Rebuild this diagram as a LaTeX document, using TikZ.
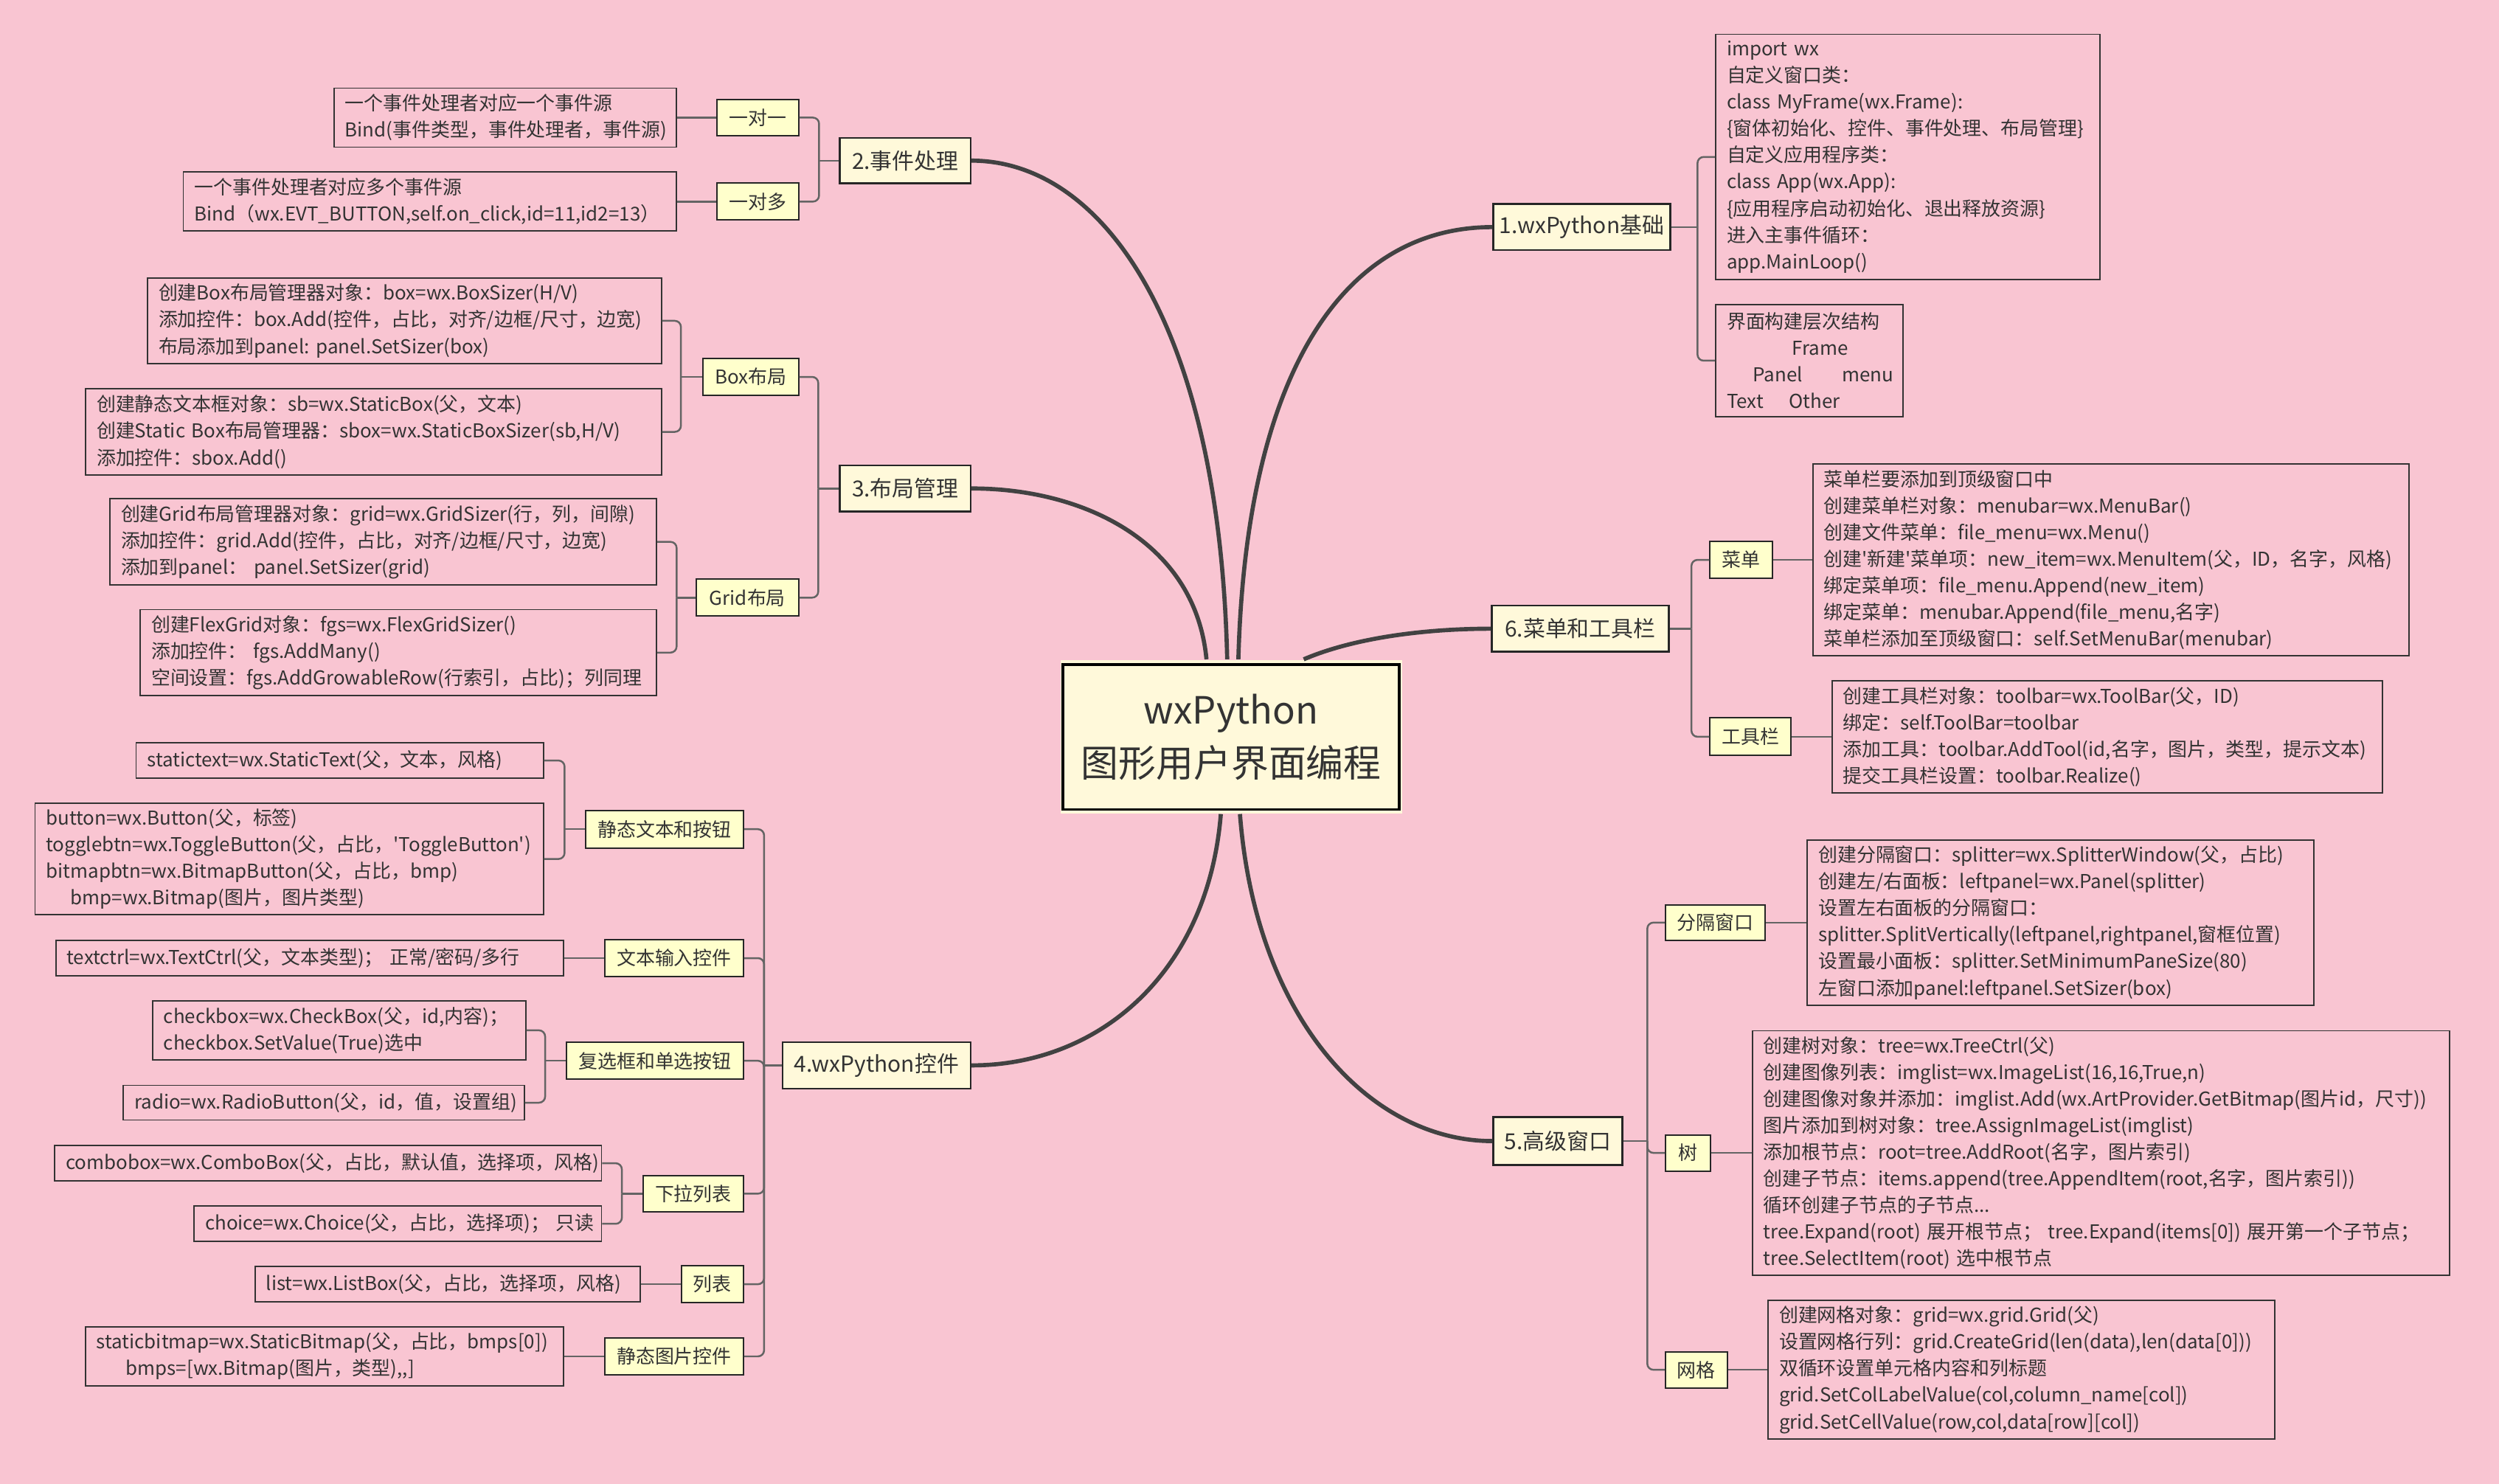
\documentclass[tikz,border=0pt]{standalone}
\usepackage{fontspec}
\setmainfont{Noto Sans CJK SC}[Ligatures=TeXOff]
\usetikzlibrary{calc}
\definecolor{bgpink}{RGB}{249,197,210}
\definecolor{cream}{RGB}{255,249,218}
\definecolor{subyel}{RGB}{255,255,204}
\definecolor{ink}{RGB}{51,51,51}
\definecolor{lnc}{RGB}{100,100,100}
\definecolor{maincol}{RGB}{66,66,66}
\newcommand\mydbox[6]{%
  \pgfmathsetmacro\mytw{#4*0.65-9}%
  \pgfmathsetmacro\myhh{#5*0.65}%
  \node[detail, text width=\mytw pt, minimum height=\myhh pt] (#1) at (#2,#3) {#6};}
\newcommand\mytbox[7]{%
  \pgfmathsetmacro\myww{#5*0.65}%
  \pgfmathsetmacro\myhh{#6*0.65}%
  \node[#1, minimum width=\myww pt, minimum height=\myhh pt] (#2) at (#3,#4) {#7};}
\tikzset{
  detail/.style={draw=ink, line width=0.55pt, inner xsep=4.5pt, inner ysep=0pt, align=left, text=ink, font=\fontsize{7.8pt}{10.86pt}\selectfont},
  topic/.style={draw=black!85, line width=0.75pt, fill=cream, inner sep=0pt, text=ink, font=\fontsize{9pt}{11pt}\selectfont},
  subtopic/.style={draw=black!85, line width=0.6pt, fill=subyel, inner sep=0pt, text=ink, font=\fontsize{7.8pt}{10pt}\selectfont},
  conn/.style={draw=lnc, line width=0.75pt, rounded corners=2.5pt},
  mainline/.style={draw=maincol, line width=1.7pt},
}
\begin{document}
\hyphenpenalty=10000 \exhyphenpenalty=10000
\begin{tikzpicture}[x=0.65pt, y=-0.65pt]
\fill[bgpink] (0,0) rectangle (1568,931);
\useasboundingbox (0,0) rectangle (1568,931);

% central
\node[fill=cream, minimum width=139.4pt, minimum height=62.7pt, inner sep=0pt] (cbg) at (772.75,462.25) {};
\node[draw=black, line width=1.1pt, minimum width=137.15pt, minimum height=59.15pt, inner sep=0pt, align=center, text=ink, font=\fontsize{15.3pt}{21.5pt}\selectfont] (c) at (772.5,462.5) {wxPython\\图形用户界面编程};

% main topics
\mytbox{topic}{t1}{992.5}{142.5}{111}{29}{1.wxPython基础}
\mytbox{topic}{t2}{568}{100.8}{82}{28.5}{2.事件处理}
\mytbox{topic}{t3}{568}{306.5}{82}{29}{3.布局管理}
\mytbox{topic}{t4}{550}{668.5}{118}{29}{4.wxPython控件}
\mytbox{topic}{t5}{977.5}{716}{81}{30}{5.高级窗口}
\mytbox{topic}{t6}{991.5}{394.5}{111}{29}{6.菜单和工具栏}

% sub topics
\mytbox{subtopic}{s21}{475.5}{73.8}{51}{23}{一对一}
\mytbox{subtopic}{s22}{475.5}{126.5}{51}{23}{一对多}
\mytbox{subtopic}{s31}{471}{236.5}{60}{23}{Box布局}
\mytbox{subtopic}{s32}{469}{375}{64}{23}{Grid布局}
\mytbox{subtopic}{s41}{417}{520.3}{99}{23.4}{静态文本和按钮}
\mytbox{subtopic}{s42}{423}{601.2}{87}{23}{文本输入控件}
\mytbox{subtopic}{s43}{411}{665.6}{111}{23}{复选框和单选按钮}
\mytbox{subtopic}{s44}{435}{749}{62.7}{23}{下拉列表}
\mytbox{subtopic}{s45}{447}{805.8}{38.6}{23}{列表}
\mytbox{subtopic}{s46}{423}{851.1}{87}{23}{静态图片控件}
\mytbox{subtopic}{s61}{1092.5}{351.3}{39}{23.5}{菜单}
\mytbox{subtopic}{s62}{1098.4}{462.3}{50.8}{23.6}{工具栏}
\mytbox{subtopic}{s51}{1076.2}{578.9}{62.5}{22.5}{分隔窗口}
\mytbox{subtopic}{s52}{1059.2}{723.4}{28.3}{22.7}{树}
\mytbox{subtopic}{s53}{1064.4}{859.5}{38.8}{22.6}{网格}

% detail boxes, left
\mydbox{d21}{317}{73.8}{215}{37}{一个事件处理者对应一个事件源\\Bind(事件类型，事件处理者，事件源)}
\mydbox{d22}{269.7}{126.5}{309.4}{37}{一个事件处理者对应多个事件源\\Bind（wx.EVT\_BUTTON,self.on\_click,id=11,id2=13）}
\mydbox{dA}{253.8}{201.3}{322.4}{53.5}{创建Box布局管理器对象：box=wx.BoxSizer(H/V)\\添加控件：box.Add(控件，占比，对齐/边框/尺寸，边宽)\\布局添加到panel:~panel.SetSizer(box)}
\mydbox{dB}{234.4}{271}{361.3}{54}{创建静态文本框对象：sb=wx.StaticBox(父，文本)\\创建Static~Box布局管理器：sbox=wx.StaticBoxSizer(sb,H/V)\\添加控件：sbox.Add()}
\mydbox{dC}{240.5}{340}{343}{54}{创建Grid布局管理器对象：grid=wx.GridSizer(行，列，间隙)\\添加控件：grid.Add(控件，占比，对齐/边框/尺寸，边宽)\\添加到panel：~panel.SetSizer(grid)}
\mydbox{dD}{250}{409.5}{324}{54}{创建FlexGrid对象：fgs=wx.FlexGridSizer()\\添加控件：~fgs.AddMany()\\空间设置：fgs.AddGrowableRow(行索引，占比)；列同理}
\mydbox{e1}{213.2}{477.2}{255.6}{22.3}{statictext=wx.StaticText(父，文本，风格)}
\mydbox{e2}{181.5}{539}{319}{70}{button=wx.Button(父，标签)\\togglebtn=wx.ToggleButton(父，占比，'ToggleButton')\\bitmapbtn=wx.BitmapButton(父，占比，bmp)\\\hspace*{10pt}bmp=wx.Bitmap(图片，图片类型)}
\mydbox{e3}{194.2}{601.2}{318.4}{22.4}{textctrl=wx.TextCtrl(父，文本类型)；~正常/密码/多行}
\mydbox{e4}{212.8}{646.5}{234}{37}{checkbox=wx.CheckBox(父，id,内容)；\\checkbox.SetValue(True)选中}
\mydbox{e5}{203.2}{691.9}{251.7}{21.7}{radio=wx.RadioButton(父，id，值，设置组)}
\mydbox{e6}{205.9}{729.9}{343}{22.3}{combobox=wx.ComboBox(父，占比，默认值，选择项，风格)}
\mydbox{e7}{249.6}{767.9}{255.6}{22.2}{choice=wx.Choice(父，占比，选择项)；~只读}
\mydbox{e8}{280.9}{805.8}{241.7}{22.4}{list=wx.ListBox(父，占比，选择项，风格)}
\mydbox{e9}{203.5}{851.1}{299.8}{37}{staticbitmap=wx.StaticBitmap(父，占比，bmps[0])\\\hspace*{12pt}bmps=[wx.Bitmap(图片，类型),,]}

% detail boxes, right
\mydbox{E}{1197}{98.5}{241}{154}{import~wx\\自定义窗口类：\\class~MyFrame(wx.Frame):\\\{窗体初始化、控件、事件处理、布局管理\}\\自定义应用程序类：\\class~App(wx.App):\\\{应用程序启动初始化、退出释放资源\}\\进入主事件循环：\\app.MainLoop()}
\mydbox{F}{1135.3}{226.3}{117.5}{70.5}{界面构建层次结构\\\hspace*{26.6pt}Frame\\\leavevmode\rlap{\hspace*{10.7pt}Panel}\hspace*{47pt}menu\\\leavevmode\rlap{Text}\hspace*{25.4pt}Other}
\mydbox{G}{1324.4}{351.3}{374}{120.5}{菜单栏要添加到顶级窗口中\\创建菜单栏对象：menubar=wx.MenuBar()\\创建文件菜单：file\_menu=wx.Menu()\\创建'新建'菜单项：new\_item=wx.MenuItem(父，ID，名字，风格)\\绑定菜单项：file\_menu.Append(new\_item)\\绑定菜单：menubar.Append(file\_menu,名字)\\菜单栏添加至顶级窗口：self.SetMenuBar(menubar)}
\mydbox{H}{1322.3}{462.3}{345.4}{70.5}{创建工具栏对象：toolbar=wx.ToolBar(父，ID)\\绑定：self.ToolBar=toolbar\\添加工具：toolbar.AddTool(id,名字，图片，类型，提示文本)\\提交工具栏设置：toolbar.Realize()}
\mydbox{I}{1293}{578.9}{318}{103.8}{创建分隔窗口：splitter=wx.SplitterWindow(父，占比)\\创建左/右面板：leftpanel=wx.Panel(splitter)\\设置左右面板的分隔窗口：\\splitter.SplitVertically(leftpanel,rightpanel,窗框位置)\\设置最小面板：splitter.SetMinimumPaneSize(80)\\左窗口添加panel:leftpanel.SetSizer(box)}
\mydbox{J}{1318.3}{723.4}{437.5}{153.3}{创建树对象：tree=wx.TreeCtrl(父)\\创建图像列表：imglist=wx.ImageList(16,16,True,n)\\创建图像对象并添加：imglist.Add(wx.ArtProvider.GetBitmap(图片id，尺寸))\\图片添加到树对象：tree.AssignImageList(imglist)\\添加根节点：root=tree.AddRoot(名字，图片索引)\\创建子节点：items.append(tree.AppendItem(root,名字，图片索引))\\循环创建子节点的子节点...\\tree.Expand(root)~展开根节点；~tree.Expand(items[0])~展开第一个子节点；\\tree.SelectItem(root)~选中根节点}
\mydbox{K}{1268.4}{859.5}{318}{87}{创建网格对象：grid=wx.grid.Grid(父)\\设置网格行列：grid.CreateGrid(len(data),len(data[0]))\\双循环设置单元格内容和列标题\\grid.SetColLabelValue(col,column\_name[col])\\grid.SetCellValue(row,col,data[row][col])}

% main curves
\draw[mainline] ($(cbg.north)+(4.25,0)$) .. controls (782,230) and (845,142.5) .. (t1.west);
\draw[mainline] ($(cbg.north)+(45.25,0)$) .. controls (850,400) and (895,394.5) .. (t6.west);
\draw[mainline] ($(cbg.north)+(-2.75,0)$) .. controls (765,200) and (690,100.8) .. (t2.east);
\draw[mainline] ($(cbg.north)+(-15.75,0)$) .. controls (750,340) and (680,306.5) .. (t3.east);
\draw[mainline] ($(cbg.south)+(-6.75,0)$) .. controls (758,610) and (690,668.5) .. (t4.east);
\draw[mainline] ($(cbg.south)+(5.25,0)$) .. controls (788,640) and (860,716) .. (t5.west);

% branch 1
\coordinate (j1) at ($(t1.east)+(16.5,0)$);
\draw[conn] (t1.east) -- (j1);
\draw[conn] (j1) |- (E.west);
\draw[conn] (j1) |- (F.west);
% branch 6
\coordinate (j6) at ($(t6.east)+(13.7,0)$);
\draw[conn] (t6.east) -- (j6);
\draw[conn] (j6) |- (s61.west);
\draw[conn] (j6) |- (s62.west);
\draw[conn] (s61.east) -- (G.west);
\draw[conn] (s62.east) -- (H.west);
% branch 5
\coordinate (j5) at ($(t5.east)+(15,0)$);
\draw[conn] (t5.east) -- (j5);
\draw[conn] (j5) |- (s51.west);
\draw[conn] (j5) |- (s52.west);
\draw[conn] (j5) |- (s53.west);
\draw[conn] (s51.east) -- (I.west);
\draw[conn] (s52.east) -- (J.west);
\draw[conn] (s53.east) -- (K.west);
% branch 2
\coordinate (j2) at ($(t2.west)+(-12.5,0)$);
\draw[conn] (t2.west) -- (j2);
\draw[conn] (j2) |- (s21.east);
\draw[conn] (j2) |- (s22.east);
\draw[conn] (s21.west) -- (d21.east);
\draw[conn] (s22.west) -- (d22.east);
% branch 3
\coordinate (j3) at ($(t3.west)+(-13,0)$);
\draw[conn] (t3.west) -- (j3);
\draw[conn] (j3) |- (s31.east);
\draw[conn] (j3) |- (s32.east);
\coordinate (jA) at ($(s31.west)+(-13.3,0)$);
\draw[conn] (s31.west) -- (jA);
\draw[conn] (jA) |- (dA.east);
\draw[conn] (jA) |- (dB.east);
\coordinate (jC) at ($(s32.west)+(-12,0)$);
\draw[conn] (s32.west) -- (jC);
\draw[conn] (jC) |- (dC.east);
\draw[conn] (jC) |- (dD.east);
% branch 4
\coordinate (j4) at ($(t4.west)+(-11,0)$);
\draw[conn] (t4.west) -- (j4);
\foreach \k in {s41,s42,s43,s44,s45,s46} {\draw[conn] (j4) |- (\k.east);}
\coordinate (j41) at ($(s41.west)+(-12.8,0)$);
\draw[conn] (s41.west) -- (j41);
\draw[conn] (j41) |- (e1.east);
\draw[conn] (j41) |- (e2.east);
\draw[conn] (s42.west) -- (e3.east);
\coordinate (j43) at ($(s43.west)+(-13,0)$);
\draw[conn] (s43.west) -- (j43);
\draw[conn] (j43) |- (e4.east);
\draw[conn] (j43) |- (e5.east);
\coordinate (j44) at ($(s44.west)+(-13,0)$);
\draw[conn] (s44.west) -- (j44);
\draw[conn] (j44) |- (e6.east);
\draw[conn] (j44) |- (e7.east);
\draw[conn] (s45.west) -- (e8.east);
\draw[conn] (s46.west) -- (e9.east);
\end{tikzpicture}
\end{document}
